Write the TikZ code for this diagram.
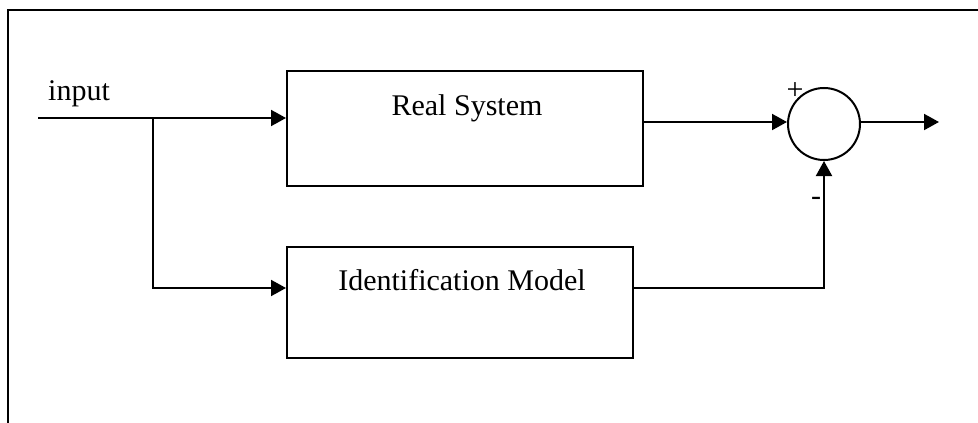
\documentclass[tikz,border=0pt]{standalone}
\usepackage{fontspec}
\setmainfont{Liberation Serif}
\usetikzlibrary{arrows.meta}
\begin{document}
\begin{tikzpicture}[x=1pt,y=-1pt,
  blk/.style={draw,line width=2pt,inner sep=0pt},
  lbl/.style={font=\fontsize{30}{36}\selectfont,inner sep=0pt},
  sumc/.style={draw,circle,line width=2pt,minimum size=72pt,inner sep=0pt},
  conn/.style={line width=2pt},
  arr/.style={conn,-{Triangle[length=15pt,width=16pt]}}]
\useasboundingbox (0,0) rectangle (978,423);
% frame
\draw[line width=2.5pt] (8,423) -- (8,10) -- (978,10);
% blocks
\node[blk,minimum width=356pt,minimum height=115pt] (rs) at (465,128.5) {};
\node[blk,minimum width=346pt,minimum height=111pt] (im) at (460,302.5) {};
\node[lbl,anchor=base] (rst) at (467,115) {Real System};
\node[lbl,anchor=base] (imt) at (462,290) {Identification Model};
\node[sumc] (sum) at (824,124) {};
% labels
\node[lbl,anchor=base west] (inl) at (48,100) {input};
\node[lbl] (plus) at (795,91) {+};
\node[lbl] (minus) at (816,201) {-};
% coordinates
\coordinate (in0) at (38,118);
\coordinate (br) at (153,118);
\coordinate (brd) at (153,288);
\coordinate (out) at (939,122);
% connectors
\draw[arr] (in0) -- (in0 -| rs.west);
\draw[arr] (br) -- (brd) -- (brd -| im.west);
\draw[arr] (rs.east |- 0,122) -- (sum.west |- 0,122);
\draw[arr] (sum.east |- 0,122) -- (out);
\draw[arr] (im.east |- brd) -- (sum.south |- brd) -- (sum.south);
\end{tikzpicture}
\end{document}
